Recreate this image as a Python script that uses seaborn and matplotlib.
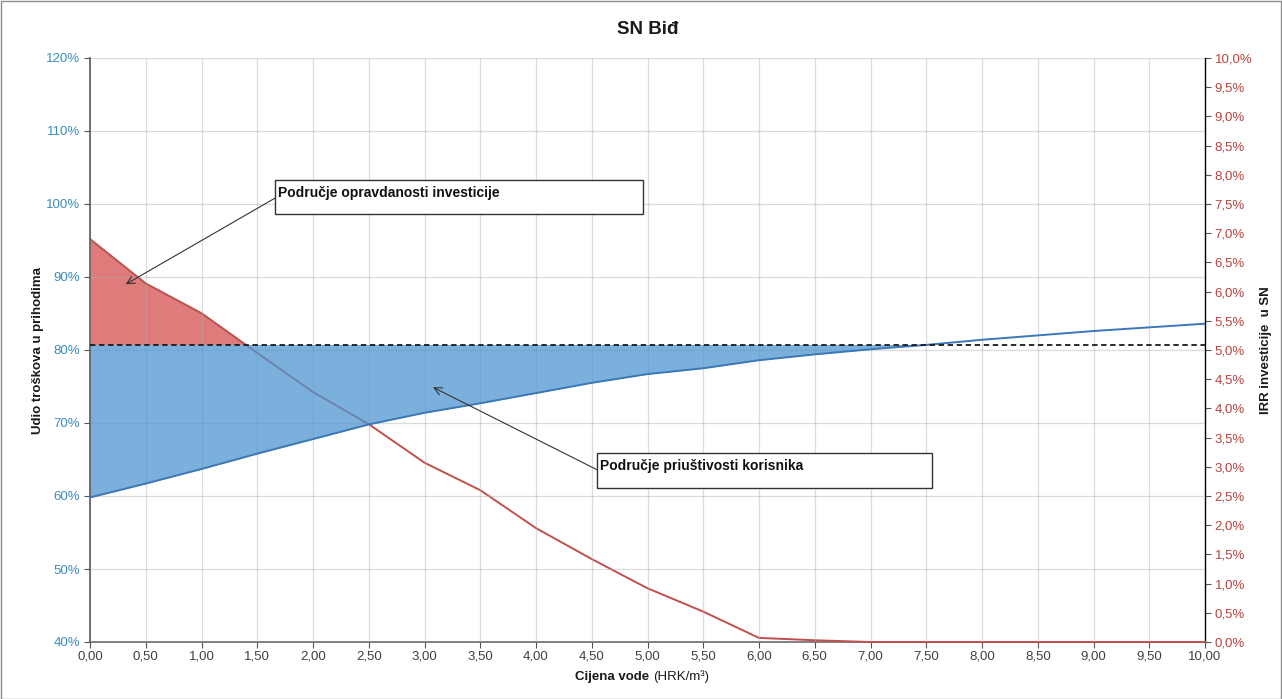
import numpy as np
import pandas as pd
import matplotlib
matplotlib.use("Agg")
import matplotlib.pyplot as plt
from matplotlib.patches import Rectangle
import seaborn as sns

# ---------------- data ----------------
price = [0.0, 0.5, 1.0, 1.5, 2.0, 2.5, 3.0, 3.5, 4.0, 4.5, 5.0, 5.5, 6.0, 6.5,
         7.0, 7.5, 8.0, 8.5, 9.0, 9.5, 10.0]
cost_share = [59.8, 61.7, 63.7, 65.8, 67.8, 69.8, 71.4, 72.7, 74.1, 75.5, 76.7,
              77.5, 78.6, 79.4, 80.1, 80.7, 81.4, 82.0, 82.6, 83.1, 83.6]   # % (left axis)
irr = [6.90, 6.14, 5.63, 4.95, 4.28, 3.73, 3.07, 2.60, 1.95, 1.42, 0.92,
       0.52, 0.07, 0.03, 0.0, 0.0, 0.0, 0.0, 0.0, 0.0, 0.0]               # % (right axis)
threshold_share = 80.75   # dashed line, left axis %

x_ticks = [i * 0.5 for i in range(21)]
x_labels = [f"{v:.2f}".replace(".", ",") for v in x_ticks]
left_ticks = [40, 50, 60, 70, 80, 90, 100, 110, 120]
left_labels = [f"{v}%" for v in left_ticks]
right_ticks = [i * 0.5 for i in range(21)]
right_labels = [f"{v:.1f}%".replace(".", ",") for v in right_ticks]

title = "SN Biđ"
ylabel_left = "Udio troškova u prihodima"
ylabel_right = "IRR investicije  u SN"
ann1 = "Područje opravdanosti investicije"
ann2 = "Područje priuštivosti korisnika"

df = pd.DataFrame({"price": price, "share": cost_share, "irr": irr})

# ---------------- style ----------------
sns.set_theme(style="white")
plt.rcParams["font.family"] = ["Liberation Sans", "DejaVu Sans"]

W, H = 1282, 699
fig = plt.figure(figsize=(W / 100, H / 100), dpi=100)
L, R, T, B = 90, 1205, 58, 642
ax = fig.add_axes([L / W, 1 - B / H, (R - L) / W, (B - T) / H])
ax2 = ax.twinx()

ax.set_xlim(0, 10)
ax.set_ylim(40, 120)
ax2.set_ylim(0, 10)

# put left axes (blue fill) on top of right axes (red series)
ax.set_zorder(ax2.get_zorder() + 1)
ax.patch.set_visible(False)
ax2.patch.set_visible(True)
ax2.patch.set_facecolor("white")

# grid
ax.set_xticks(x_ticks)
ax.set_yticks(left_ticks)
ax.grid(True, color="#b0b0b0", alpha=0.45, lw=0.9, zorder=0)
ax.set_axisbelow(True)

# threshold in IRR units (map from left axis to right axis)
thr_irr = (threshold_share - 40) / 80 * 10

x = np.array(price)
irr_a = np.array(irr)
share_a = np.array(cost_share)

# red series on ax2
ax2.fill_between(x, irr_a, thr_irr, where=irr_a >= thr_irr, interpolate=True,
                 color="#DA6464", alpha=0.85, lw=0, zorder=1)
sns.lineplot(data=df, x="price", y="irr", ax=ax2, color="#C0504D", lw=1.4,
             zorder=3, legend=False, clip_on=False)

# blue series on ax
ax.fill_between(x, share_a, threshold_share, where=share_a <= threshold_share,
                interpolate=True, color="#4E96D0", alpha=0.75, lw=0, zorder=2)
sns.lineplot(data=df, x="price", y="share", ax=ax, color="#3A78B8", lw=1.4,
             zorder=3, legend=False)
ax.axhline(threshold_share, color="#1a1a1a", lw=1.3, ls=(0, (3, 2)), zorder=4)

# ticks and labels
ax.set_xticklabels(x_labels, fontsize=9.5, color="#404040")
ax.set_yticklabels(left_labels, fontsize=9.5, color="#3C8CC0")
ax2.set_yticks(right_ticks)
ax2.set_yticklabels(right_labels, fontsize=9.5, color="#B8433E")
for a in (ax, ax2):
    a.tick_params(axis="both", which="major", length=4, width=0.8, direction="out",
                  pad=3, color="#555555")
ax.tick_params(axis="x", bottom=True, pad=2)
ax.tick_params(axis="y", left=True)
ax2.tick_params(axis="y", right=True)
ax.set_xlabel("")
ax.set_ylabel("")
ax2.set_ylabel("")
ax2.set_xlabel("")

for a in (ax, ax2):
    a.spines["top"].set_visible(False)
ax.spines["left"].set_color("#606060")
ax.spines["bottom"].set_visible(False)
ax.spines["right"].set_visible(False)
ax2.spines["left"].set_visible(False)
ax2.spines["bottom"].set_visible(True)
ax2.spines["bottom"].set_color("#707070")
ax2.spines["right"].set_color("#000000")
ax2.spines["right"].set_linewidth(1.0)

# axis titles
fig.text(648 / W, 1 - 30 / H, title, ha="center", va="center", fontsize=13.5,
         fontweight="bold", color="#1a1a1a")
fig.text(38 / W, 1 - 350 / H, ylabel_left, rotation=90, ha="center", va="center",
         fontsize=9.5, fontweight="bold", color="#1a1a1a")
fig.text(1266 / W, 1 - 350 / H, ylabel_right, rotation=90, ha="center", va="center",
         fontsize=9.5, fontweight="bold", color="#1a1a1a")
fig.text(653 / W, 1 - 677 / H, "Cijena vode ", ha="right", va="center",
         fontsize=9.5, fontweight="bold", color="#1a1a1a")
fig.text(653 / W, 1 - 677 / H, "(HRK/m³)", ha="left", va="center",
         fontsize=9.5, color="#1a1a1a")

# annotation boxes (data coords of the left axes)
def box(x0, x1, ytop, ybot, text, arrow_from, arrow_to):
    ax.add_patch(Rectangle((x0, ybot), x1 - x0, ytop - ybot, facecolor="white",
                           edgecolor="#333333", lw=1.0, zorder=10, clip_on=False))
    ax.text(x0 + 0.03, ytop - (ytop - ybot) * 0.38, text, ha="left", va="center",
            fontsize=10, fontweight="bold", color="#111111", zorder=11)
    ax.annotate("", xy=arrow_to, xytext=arrow_from,
                arrowprops=dict(arrowstyle="->", color="#333333", lw=0.8,
                                shrinkA=0, shrinkB=0, mutation_scale=14),
                zorder=9)

box(1.659, 4.96, 103.3, 98.6, ann1, (1.659, 100.8), (0.32, 89.0))
box(4.547, 7.552, 65.9, 61.1, ann2, (4.547, 63.6), (3.076, 74.9))

# outer chart frame
fig.add_artist(Rectangle((0.5 / W, 0.5 / H), 1 - 1.5 / W, 1 - 1.5 / H,
                         transform=fig.transFigure, fill=False,
                         edgecolor="#8c8c8c", lw=1.0))

fig.savefig("out.png", dpi=100)
